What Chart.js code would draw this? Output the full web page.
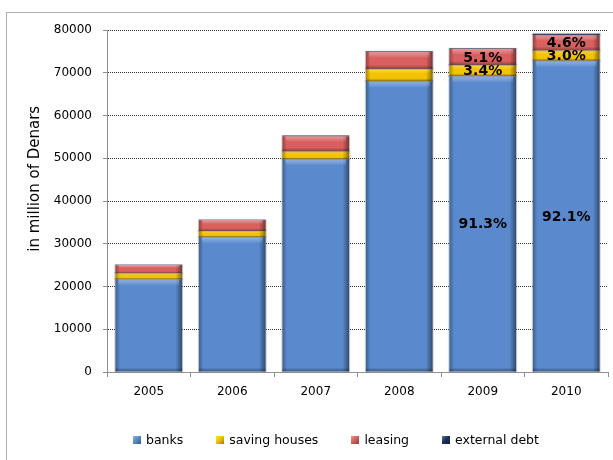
<!DOCTYPE html>
<html>
<head>
<meta charset="utf-8">
<script src="https://cdn.jsdelivr.net/npm/chart.js@4.4.0/dist/chart.umd.min.js"></script>
<style>
  html, body { margin: 0; padding: 0; background: #fff; }
  #wrap { position: relative; width: 613px; height: 460px; overflow: hidden; }
  #frame { position: absolute; left: 6px; top: 12px; width: 620px; height: 460px;
           border-left: 1px solid #b0b0b0; border-top: 1px solid #b0b0b0; }
  canvas { position: absolute; left: 0; top: 0; }
  #legend { position: absolute; left: 133px; top: 432px; display: flex; gap: 33px;
            font: 12.5px "DejaVu Sans", sans-serif; color: #000; }
  #legend span.item { display: flex; align-items: center; }
  #legend i { display: inline-block; width: 8px; height: 8px; margin-right: 5px; }
</style>
</head>
<body>
<div id="wrap">
  <div id="frame"></div>
  <canvas id="chart" width="613" height="460"></canvas>
  <div id="legend"></div>
</div>
<script>
// values, in million of Denars
const years = ["2005", "2006", "2007", "2008", "2009", "2010"];
const banks = [21700, 31600, 49800, 68000, 69200, 72800];
const savingHouses = [1400, 1400, 1800, 2900, 2600, 2400];
const leasing = [1900, 2500, 3500, 4000, 3800, 3600];
const externalDebt = [100, 100, 200, 200, 200, 300];

// share labels printed on the last two bars
const banksShare = [null, null, null, null, "91.3%", "92.1%"];
const savingShare = [null, null, null, null, "3.4%", "3.0%"];
const leasingShare = [null, null, null, null, "5.1%", "4.6%"];

const yTicks = [0, 10000, 20000, 30000, 40000, 50000, 60000, 70000, 80000];

const colors = {
  banks: "#5a8acd",
  saving: "#f4c300",
  leasing: "#d9605f",
  external: "#1c2f60"
};

const FONT = "DejaVu Sans";

// bevel look on each bar segment
const bevelPlugin = {
  id: "bevel",
  afterDatasetsDraw(chart) {
    const ctx = chart.ctx;
    chart.data.datasets.forEach((ds, di) => {
      chart.getDatasetMeta(di).data.forEach(bar => {
        const p = bar.getProps(["x", "y", "base", "width"], true);
        const l = p.x - p.width / 2, w = p.width;
        const top = Math.min(p.y, p.base), h = Math.abs(p.base - p.y);
        if (h < 1) return;
        ctx.save();
        let g = ctx.createLinearGradient(l, 0, l + w, 0);
        g.addColorStop(0, "rgba(0,0,0,0.30)");
        g.addColorStop(0.07, "rgba(0,0,0,0)");
        g.addColorStop(0.9, "rgba(0,0,0,0)");
        g.addColorStop(1, "rgba(0,0,0,0.45)");
        ctx.fillStyle = g;
        ctx.fillRect(l, top, w, h);
        const band = Math.min(6, h / 3);
        let gt = ctx.createLinearGradient(0, top, 0, top + band);
        gt.addColorStop(0, "rgba(255,255,255,0.35)");
        gt.addColorStop(1, "rgba(255,255,255,0.05)");
        ctx.fillStyle = gt;
        ctx.fillRect(l + 3, top, w - 6, band);
        const bb = Math.min(4, h / 4);
        let gb = ctx.createLinearGradient(0, top + h - bb, 0, top + h);
        gb.addColorStop(0, "rgba(0,0,0,0)");
        gb.addColorStop(1, "rgba(0,0,0,0.35)");
        ctx.fillStyle = gb;
        ctx.fillRect(l, top + h - bb, w, bb);
        ctx.strokeStyle = "rgba(120,120,140,0.35)";
        ctx.lineWidth = 1;
        ctx.strokeRect(l - 0.5, top - 0.5, w + 1, h + 1);
        ctx.restore();
      });
    });
  }
};

// percentage labels inside the segments
const shareLabels = {
  id: "shareLabels",
  afterDatasetsDraw(chart) {
    const ctx = chart.ctx;
    const sets = [banksShare, savingShare, leasingShare];
    ctx.save();
    ctx.font = "bold 14px '" + FONT + "'";
    ctx.fillStyle = "#000";
    ctx.textAlign = "center";
    ctx.textBaseline = "middle";
    sets.forEach((labels, di) => {
      const meta = chart.getDatasetMeta(di);
      labels.forEach((txt, i) => {
        if (!txt) return;
        const bar = meta.data[i];
        ctx.fillText(txt, bar.x, (bar.y + bar.base) / 2 + 1);
      });
    });
    ctx.restore();
  }
};

// y axis title, sits a bit above the middle like the original
const yTitle = {
  id: "yTitle",
  afterDraw(chart) {
    const ctx = chart.ctx;
    const a = chart.chartArea;
    ctx.save();
    ctx.translate(35, a.top + (a.bottom - a.top) * 0.435);
    ctx.rotate(-Math.PI / 2);
    ctx.font = "15px '" + FONT + "'";
    ctx.fillStyle = "#000";
    ctx.textAlign = "center";
    ctx.textBaseline = "middle";
    ctx.fillText("in million of Denars", 0, 0);
    ctx.restore();
  }
};

function dataset(label, data, color) {
  return { label: label, data: data, backgroundColor: color, borderWidth: 0,
           barPercentage: 0.8, categoryPercentage: 1.0 };
}

const chart = new Chart(document.getElementById("chart"), {
  type: "bar",
  data: {
    labels: years,
    datasets: [
      dataset("banks", banks, colors.banks),
      dataset("saving houses", savingHouses, colors.saving),
      dataset("leasing", leasing, colors.leasing),
      dataset("external debt", externalDebt, colors.external)
    ]
  },
  options: {
    responsive: false,
    animation: false,
    layout: { padding: { top: 30, right: 5, left: 0, bottom: 0 } },
    plugins: { legend: { display: false }, tooltip: { enabled: false } },
    scales: {
      x: {
        stacked: true,
        offset: true,
        grid: { offset: true, drawOnChartArea: false, tickLength: 5, tickColor: "#909090" },
        border: { color: "#909090" },
        ticks: { color: "#000", padding: 8, font: { family: FONT, size: 12 } },
        afterFit(scale) { scale.height = 88; }
      },
      y: {
        stacked: true,
        min: 0,
        max: 80000,
        afterBuildTicks(scale) { scale.ticks = yTicks.map(v => ({ value: v })); },
        grid: {
          color: c => c.tick && c.tick.value === 0 ? "rgba(0,0,0,0)" : "#333",
          tickColor: "#909090",
          tickLength: 4,
          tickBorderDash: []
        },
        // in v4 border.dash sets the dash of the grid lines
        border: { color: "#909090", dash: [1, 1] },
        ticks: {
          color: "#000", padding: 11, font: { family: FONT, size: 12 },
          callback: v => String(v)
        },
        afterFit(scale) { scale.width = 107; }
      }
    }
  },
  plugins: [bevelPlugin, shareLabels, yTitle]
});

// legend built from the datasets
const legend = document.getElementById("legend");
chart.data.datasets.forEach(ds => {
  const item = document.createElement("span");
  item.className = "item";
  const sw = document.createElement("i");
  sw.style.background = "linear-gradient(135deg, rgba(255,255,255,0.35), " + ds.backgroundColor + " 45%, rgba(0,0,0,0.35))";
  sw.style.backgroundColor = ds.backgroundColor;
  item.appendChild(sw);
  item.appendChild(document.createTextNode(ds.label));
  legend.appendChild(item);
});
</script>
</body>
</html>
